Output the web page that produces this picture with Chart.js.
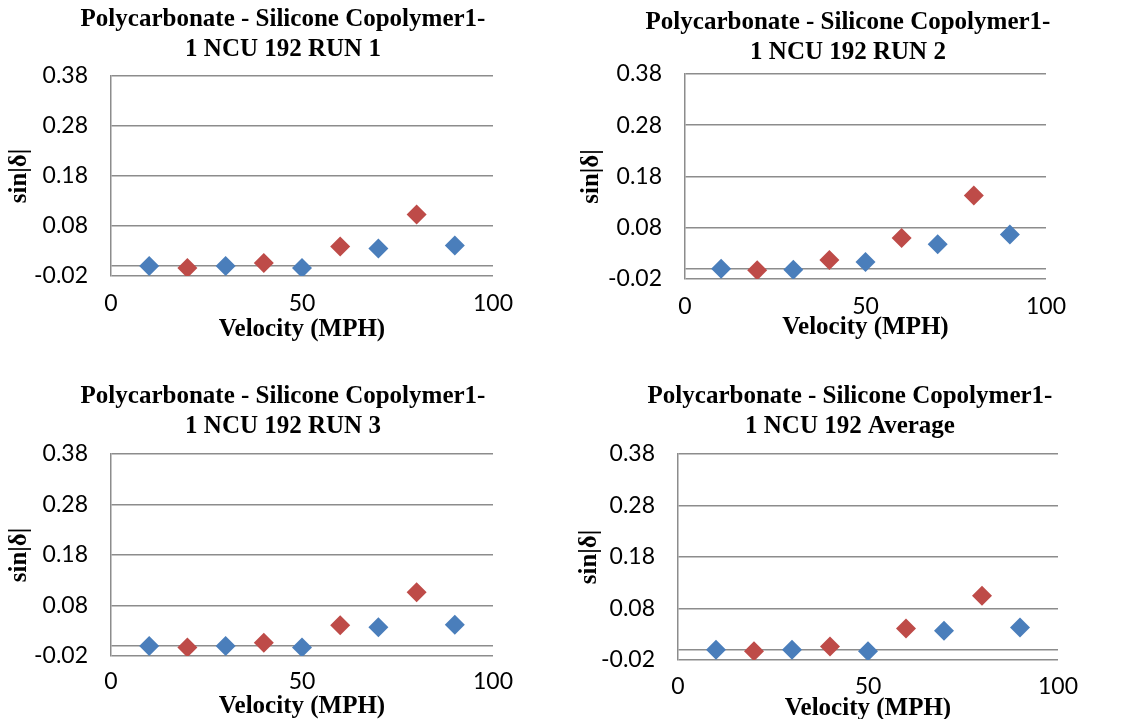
<!DOCTYPE html>
<html>
<head>
<meta charset="utf-8">
<script src="https://cdn.jsdelivr.net/npm/chart.js@4.4.1/dist/chart.umd.min.js"></script>
<style>
  html, body { margin: 0; padding: 0; background: #fff; overflow: hidden; }
  body { width: 1123px; height: 719px; position: relative; }
  .box { position: absolute; }
</style>
</head>
<body>
<div class="box" id="b1" style="left:0px;top:0px;width:566px;height:360px"><canvas id="c1"></canvas></div>
<div class="box" id="b2" style="left:572px;top:0px;width:552px;height:360px"><canvas id="c2"></canvas></div>
<div class="box" id="b3" style="left:0px;top:360px;width:566px;height:359px"><canvas id="c3"></canvas></div>
<div class="box" id="b4" style="left:570px;top:360px;width:560px;height:359px"><canvas id="c4"></canvas></div>
<script>
// velocities (MPH); blue and red points alternate
const blueVelocity = [10, 30, 50, 70, 90];
const redVelocity = [20, 40, 60, 80];

const run1Blue = [0.0, 0.0, -0.004, 0.035, 0.041];
const run1Red = [-0.004, 0.006, 0.039, 0.103];

const run2Blue = [0.0, -0.002, 0.013, 0.048, 0.067];
const run2Red = [-0.003, 0.017, 0.060, 0.143];

const run3Blue = [0.0, 0.0, -0.003, 0.037, 0.042];
const run3Red = [-0.003, 0.006, 0.041, 0.106];

const avgBlue = [0.0, 0.0, -0.003, 0.037, 0.043];
const avgRed = [-0.003, 0.006, 0.041, 0.105];

const yTickValues = [-0.02, 0.08, 0.18, 0.28, 0.38];
const xTickValues = [0, 50, 100];

const titles = [
  ["Polycarbonate - Silicone Copolymer1-", "1 NCU 192 RUN 1"],
  ["Polycarbonate - Silicone Copolymer1-", "1 NCU 192 RUN 2"],
  ["Polycarbonate - Silicone Copolymer1-", "1 NCU 192 RUN 3"],
  ["Polycarbonate - Silicone Copolymer1-", "1 NCU 192 Average"]
];

const BLUE = "#4a7ebb";
const RED = "#be4b48";
const GRID = "#8c8c8c";
const SERIF = "'Liberation Serif', 'Times New Roman', serif";
const SANS = "Lato, 'Liberation Sans', sans-serif";

function points(xs, ys) {
  return xs.map((x, i) => ({ x: x, y: ys[i] }));
}

// layout per panel: y-axis width, right gap, title paddings, x-axis height, tick padding
const panels = [
  { id: "c1", blue: run1Blue, red: run1Red, yW: 111, rW: 73, tTop: 5, tBot: 11, xH: 84, tickPad: 6, xTitlePad: 15 },
  { id: "c2", blue: run2Blue, red: run2Red, yW: 113, rW: 78, tTop: 8, tBot: 6, xH: 81, tickPad: 6, xTitlePad: 17 },
  { id: "c3", blue: run3Blue, red: run3Red, yW: 111, rW: 73, tTop: 22, tBot: 12, xH: 63, tickPad: 4, xTitlePad: -3 },
  { id: "c4", blue: avgBlue, red: avgRed, yW: 108, rW: 72, tTop: 22, tBot: 12, xH: 59, tickPad: 5, xTitlePad: -5 }
];

panels.forEach((p, k) => {
  new Chart(document.getElementById(p.id), {
    type: "scatter",
    data: {
      datasets: [
        {
          data: points(blueVelocity, p.blue),
          pointStyle: "rectRot",
          pointRadius: 10,
          backgroundColor: BLUE,
          borderColor: BLUE,
          borderWidth: 0
        },
        {
          data: points(redVelocity, p.red),
          pointStyle: "rectRot",
          pointRadius: 10,
          backgroundColor: RED,
          borderColor: RED,
          borderWidth: 0
        }
      ]
    },
    options: {
      responsive: true,
      maintainAspectRatio: false,
      animation: false,
      layout: { padding: 0 },
      plugins: {
        legend: { display: false },
        tooltip: { enabled: false },
        title: {
          display: true,
          text: titles[k],
          color: "#000",
          font: { family: SERIF, size: 25, weight: "bold", lineHeight: 1.2 },
          padding: { top: p.tTop, bottom: p.tBot }
        }
      },
      scales: {
        x: {
          type: "linear",
          min: 0,
          max: 100,
          afterBuildTicks: (s) => { s.ticks = xTickValues.map(v => ({ value: v })); },
          afterFit: (s) => { s.height = p.xH; },
          grid: { display: false },
          border: { display: false },
          ticks: { color: "#000", padding: p.tickPad, font: { family: SANS, size: 23 } },
          title: {
            display: true,
            text: "Velocity (MPH)",
            color: "#000",
            font: { family: SERIF, size: 25, weight: "bold" },
            padding: { top: 0, bottom: p.xTitlePad }
          }
        },
        y: {
          type: "linear",
          position: "left",
          min: -0.02,
          max: 0.38,
          // labelled ticks plus the zero line where the x axis crosses
          afterBuildTicks: (s) => { s.ticks = [0].concat(yTickValues).map(v => ({ value: v })); },
          afterFit: (s) => { s.width = p.yW; },
          grid: { color: GRID, lineWidth: 1.5, drawTicks: false },
          border: { display: true, color: GRID, width: 1.5 },
          ticks: {
            color: "#000",
            padding: 23,
            font: { family: SANS, size: 23 },
            callback: (v) => (v === 0 ? "" : v.toFixed(2))
          },
          title: {
            display: true,
            text: "sin|δ|",
            color: "#000",
            font: { family: SERIF, size: 25, weight: "bold" },
            padding: { top: 5, bottom: 0 }
          }
        },
        gap: {
          type: "linear",
          position: "right",
          display: true,
          afterFit: (s) => { s.width = p.rW; },
          grid: { display: false },
          border: { display: false },
          ticks: { display: false }
        }
      }
    }
  });
});
</script>
</body>
</html>
